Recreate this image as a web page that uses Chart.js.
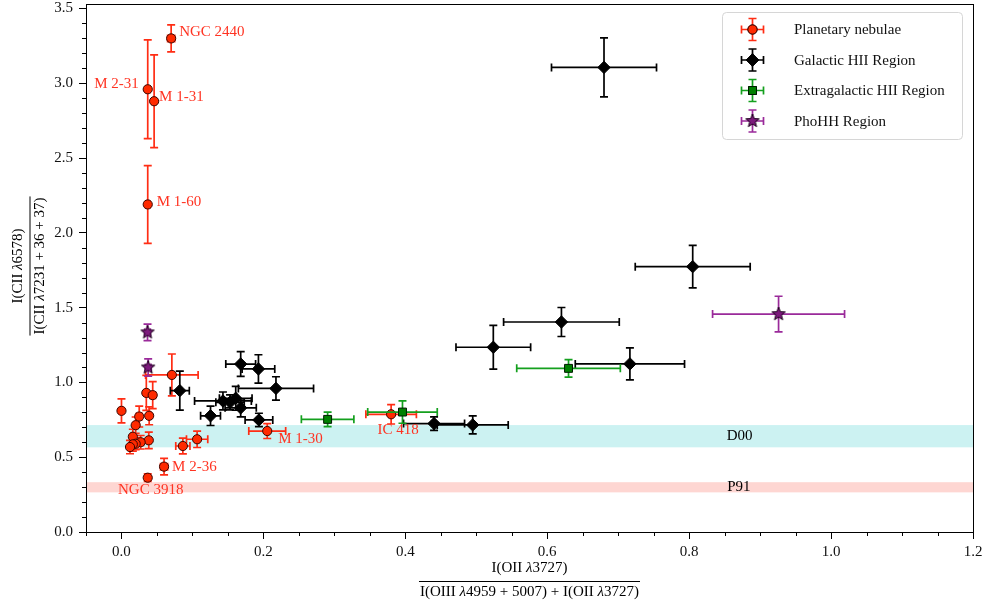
<!DOCTYPE html>
<html><head><meta charset="utf-8">
<script src="https://cdn.jsdelivr.net/npm/chart.js@4/dist/chart.umd.min.js"></script>
<style>html,body{margin:0;padding:0;background:#fff;}canvas{display:block;}</style>
</head><body>
<canvas id="c" width="985" height="603"></canvas>
<script>
// ---------------- DATA ----------------
// Planetary nebulae
const pnNames = ['NGC 2440','M 2-31','M 1-31','M 1-60','','','','','','','','','','','','','','','','M 2-36','NGC 3918','M 1-30','IC 418'];
const pnX    = [0.070,0.037,0.046,0.037,0.071,0.035,0.044,0.000,0.039,0.025,0.020,0.016,0.0385,0.027,0.020,0.016,0.012,0.0865,0.1066,0.060,0.037,0.2054,0.380];
const pnY    = [3.30,2.96,2.88,2.19,1.05,0.93,0.915,0.81,0.777,0.772,0.714,0.637,0.613,0.600,0.590,0.586,0.568,0.575,0.620,0.437,0.363,0.675,0.787];
const pnXerr = [0.005,0.003,0.003,0.003,0.037,0.003,0.004,0.003,0.003,0.004,0.003,0.003,0.003,0.004,0.003,0.003,0.003,0.010,0.015,0.005,0.003,0.026,0.0356];
const pnYerr = [0.09,0.33,0.31,0.26,0.14,0.117,0.09,0.08,0.06,0.07,0.055,0.05,0.055,0.045,0.04,0.045,0.045,0.053,0.055,0.055,0.025,0.05,0.065];
// Galactic HII regions
const ghX    = [0.680,0.805,0.620,0.524,0.7165,0.495,0.4405,0.168,0.193,0.2177,0.0822,0.143,0.161,0.153,0.168,0.1255,0.1937];
const ghY    = [3.106,1.774,1.404,1.235,1.124,0.716,0.725,1.123,1.090,0.960,0.945,0.876,0.894,0.867,0.830,0.777,0.749];
const ghXerr = [0.074,0.081,0.0815,0.0526,0.077,0.050,0.043,0.021,0.023,0.053,0.0134,0.040,0.023,0.020,0.022,0.014,0.0195];
const ghYerr = [0.197,0.142,0.097,0.146,0.107,0.06,0.045,0.083,0.095,0.078,0.13,0.06,0.08,0.05,0.06,0.065,0.045];
// Extragalactic HII regions
const exX    = [0.2905,0.396,0.630];
const exY    = [0.753,0.802,1.094];
const exXerr = [0.037,0.049,0.073];
const exYerr = [0.048,0.075,0.059];
// PhoHH regions
const phX    = [0.0367,0.0376,0.926];
const phY    = [1.335,1.100,1.457];
const phXerr = [0.004,0.004,0.093];
const phYerr = [0.055,0.058,0.119];
// Reference bands
const bandNames = ['D00','P91'];
const bandLow   = [0.566,0.265];
const bandHigh  = [0.715,0.333];
const bandLabelX = [0.871,0.870];
// Axis ticks
const xTicks = [0.0,0.2,0.4,0.6,0.8,1.0,1.2];
const yTicks = [0.0,0.5,1.0,1.5,2.0,2.5,3.0,3.5];
const seriesNames = ['Planetary nebulae','Galactic HII Region','Extragalactic HII Region','PhoHH Region'];
// axis titles (text, italic?)
const xTitleNum = [['I(OII ',0],['λ',1],['3727)',0]];
const xTitleDen = [['I(OIII ',0],['λ',1],['4959 + 5007) + I(OII ',0],['λ',1],['3727)',0]];
const yTitleNum = [['I(CII ',0],['λ',1],['6578)',0]];
const yTitleDen = [['I(CII ',0],['λ',1],['7231 + 36 + 37)',0]];

// ---------------- STYLE ----------------
const SERIF = "'Liberation Serif','Times New Roman',Times,serif";
const FS = 15;
const labelOffsets = { // px offsets from point, alignment
  'NGC 2440':[8,-6,'left'], 'M 2-31':[-9,-5,'right'], 'M 1-31':[5,-4,'left'], 'M 1-60':[9,-2,'left'],
  'M 2-36':[8,0,'left'], 'NGC 3918':[3,12,'center'], 'M 1-30':[11,8,'left'], 'IC 418':[7,16,'center']
};
const bandColors = ['rgba(0,191,191,0.2)','rgba(250,70,50,0.22)'];

function pts(X,Y,XE,YE){ return X.map((x,i)=>({x:x,y:Y[i],xerr:XE[i],yerr:YE[i]})); }

function starPath(g,cx,cy,R,r){
  g.beginPath();
  for(let k=0;k<10;k++){
    const a=-Math.PI/2+k*Math.PI/5, rr=(k%2===0)?R:r;
    const px=cx+rr*Math.cos(a), py=cy+rr*Math.sin(a);
    if(k===0) g.moveTo(px,py); else g.lineTo(px,py);
  }
  g.closePath();
}
function starCanvas(R,fill,edge){
  const s=Math.ceil(2*R+4); const c=document.createElement('canvas'); c.width=s; c.height=s;
  const g=c.getContext('2d'); starPath(g,s/2,s/2,R,R*0.42);
  g.fillStyle=fill; g.fill(); g.strokeStyle=edge; g.lineWidth=1; g.stroke(); return c;
}
const starImg = starCanvas(7,'#7d1a7d','#1a001a');

const series = [
  {label:seriesNames[0], data:pts(pnX,pnY,pnXerr,pnYerr), pointStyle:'circle', pointRadius:4.6, backgroundColor:'#ff2a00', borderColor:'#3a0500', errColor:'#ff2d14', order:4},
  {label:seriesNames[1], data:pts(ghX,ghY,ghXerr,ghYerr), pointStyle:'rectRot', pointRadius:6.2, backgroundColor:'#000', borderColor:'#000', errColor:'#000', order:3},
  {label:seriesNames[2], data:pts(exX,exY,exXerr,exYerr), pointStyle:'rect', pointRadius:5.6, backgroundColor:'#008000', borderColor:'#001a00', errColor:'#14a01e', order:2},
  {label:seriesNames[3], data:pts(phX,phY,phXerr,phYerr), pointStyle:starImg, pointRadius:7, backgroundColor:'#7d1a7d', borderColor:'#000', errColor:'#9a2a9a', order:1}
];
series.forEach(s=>{s.borderWidth=1; s.showLine=false; s.pointHoverRadius=s.pointRadius;});

const CAP=4;
function drawErr(ctx,x0,x1,y0,y1,px,py){
  ctx.beginPath();
  ctx.moveTo(x0,py); ctx.lineTo(x1,py);
  ctx.moveTo(px,y0); ctx.lineTo(px,y1);
  ctx.moveTo(x0,py-CAP); ctx.lineTo(x0,py+CAP);
  ctx.moveTo(x1,py-CAP); ctx.lineTo(x1,py+CAP);
  ctx.moveTo(px-CAP,y0); ctx.lineTo(px+CAP,y0);
  ctx.moveTo(px-CAP,y1); ctx.lineTo(px+CAP,y1);
  ctx.stroke();
}

const bgPlugin = {id:'bg', beforeDraw(chart){const c=chart.ctx; c.save(); c.fillStyle='#fff'; c.fillRect(0,0,chart.width,chart.height); c.restore();}};

const bandPlugin = {id:'bands', beforeDatasetsDraw(chart){
  const {ctx,chartArea:a,scales:{x,y}}=chart; ctx.save();
  bandNames.forEach((n,i)=>{
    const t=y.getPixelForValue(bandHigh[i]), b=y.getPixelForValue(bandLow[i]);
    ctx.fillStyle=bandColors[i]; ctx.fillRect(a.left,t,a.right-a.left,b-t);
  });
  ctx.restore();
}};

const errPlugin = {id:'errbars', beforeDatasetDraw(chart,args){
  const ds=chart.data.datasets[args.index]; const {ctx,scales:{x,y}}=chart;
  ctx.save(); ctx.strokeStyle=ds.errColor; ctx.lineWidth=1.7; ctx.lineCap='butt';
  ds.data.forEach(p=>{
    drawErr(ctx, x.getPixelForValue(p.x-p.xerr), x.getPixelForValue(p.x+p.xerr),
      y.getPixelForValue(p.y-p.yerr), y.getPixelForValue(p.y+p.yerr),
      x.getPixelForValue(p.x), y.getPixelForValue(p.y));
  });
  ctx.restore();
}};

function segsWidth(ctx,segs){let w=0; segs.forEach(s=>{ctx.font=(s[1]?'italic ':'')+FS+'px '+SERIF; w+=ctx.measureText(s[0]).width;}); return w;}
function drawSegs(ctx,segs,cx,cy){
  const w=segsWidth(ctx,segs); let x=cx-w/2; ctx.textBaseline='middle'; ctx.textAlign='left';
  segs.forEach(s=>{ctx.font=(s[1]?'italic ':'')+FS+'px '+SERIF; ctx.fillText(s[0],x,cy); x+=ctx.measureText(s[0]).width;});
  return w;
}
function drawFrac(ctx,num,den,cx,cy,upOff,downOff){
  const wn=drawSegs(ctx,num,cx,cy-upOff);
  const wd=drawSegs(ctx,den,cx,cy+downOff);
  const w=Math.max(wn,wd)+2;
  ctx.beginPath(); ctx.moveTo(cx-w/2,cy+0.5); ctx.lineTo(cx+w/2,cy+0.5); ctx.lineWidth=1; ctx.stroke();
}

const decoPlugin = {id:'deco', afterDatasetsDraw(chart){
  const {ctx,chartArea:a,scales:{x,y}}=chart;
  ctx.save();
  // band labels
  ctx.fillStyle='#000'; ctx.font=FS+'px '+SERIF; ctx.textAlign='center'; ctx.textBaseline='middle';
  bandNames.forEach((n,i)=>{ctx.fillText(n, x.getPixelForValue(bandLabelX[i]), y.getPixelForValue((bandLow[i]+bandHigh[i])/2));});
  // PN labels
  ctx.fillStyle='#ff3322';
  pnNames.forEach((n,i)=>{ if(!n) return; const o=labelOffsets[n]||[6,0,'left'];
    ctx.textAlign=o[2]; ctx.fillText(n, x.getPixelForValue(pnX[i])+o[0], y.getPixelForValue(pnY[i])+o[1]); });
  // frame
  ctx.strokeStyle='#000'; ctx.lineWidth=1;
  ctx.strokeRect(Math.round(a.left)+0.5, Math.round(a.top)+0.5, Math.round(a.right-a.left), Math.round(a.bottom-a.top));
  // minor ticks
  ctx.beginPath();
  for(let v=-0.05; v<=1.2001; v+=0.05){ const r=Math.round(v*100)/100; if(Math.abs(r*5-Math.round(r*5))<1e-6) continue;
    const px=Math.round(x.getPixelForValue(r))+0.5; ctx.moveTo(px,a.bottom); ctx.lineTo(px,a.bottom+4); }
  for(let v=0; v<=3.5001; v+=0.1){ const r=Math.round(v*10)/10; if(Math.abs(r*2-Math.round(r*2))<1e-6) continue;
    const py=Math.round(y.getPixelForValue(r))+0.5; ctx.moveTo(a.left,py); ctx.lineTo(a.left-4,py); }
  ctx.stroke();
  // axis titles
  ctx.fillStyle='#000'; ctx.strokeStyle='#000';
  const cx=(a.left+a.right)/2;
  drawFrac(ctx,xTitleNum,xTitleDen,cx,581,13,11);
  ctx.save(); ctx.translate(29.5,266); ctx.rotate(-Math.PI/2);
  drawFrac(ctx,yTitleNum,yTitleDen,0,0,11,11);
  ctx.restore();
  // legend
  const L={x:722.5,y:12.5,w:240,h:127};
  ctx.beginPath(); ctx.roundRect(L.x,L.y,L.w,L.h,4);
  ctx.fillStyle='rgba(255,255,255,0.85)'; ctx.fill(); ctx.strokeStyle='#d6d6d6'; ctx.lineWidth=1; ctx.stroke();
  const rowsY=[29.5,60,90.5,121]; const mx=752.5;
  chart.data.datasets.forEach((ds,i)=>{
    const ry=rowsY[i];
    ctx.strokeStyle=ds.errColor; ctx.lineWidth=1.7;
    drawErr(ctx,mx-11,mx+11,ry-11,ry+11,mx,ry);
    ctx.fillStyle=ds.backgroundColor; ctx.strokeStyle=ds.borderColor; ctx.lineWidth=1;
    if(ds.pointStyle instanceof HTMLCanvasElement){ ctx.drawImage(ds.pointStyle, mx-ds.pointStyle.width/2, ry-ds.pointStyle.height/2); }
    else { Chart.helpers.drawPoint(ctx,{pointStyle:ds.pointStyle,radius:ds.pointRadius,rotation:0,borderWidth:1},mx,ry); ctx.fill(); ctx.stroke(); }
    ctx.fillStyle='#111'; ctx.font=FS+'px '+SERIF; ctx.textAlign='left'; ctx.textBaseline='middle';
    ctx.fillText(ds.label,794,ry+1);
  });
  ctx.restore();
}};

const axisCommon = {
  type:'linear',
  grid:{drawOnChartArea:false, drawTicks:true, tickLength:7, color:'#000', lineWidth:1},
  border:{display:true, color:'#000', width:1},
  ticks:{font:{family:SERIF,size:FS}, color:'#111', maxRotation:0, autoSkip:false, callback:v=>Number(v).toFixed(1)}
};

new Chart(document.getElementById('c'),{
  type:'scatter',
  data:{datasets:series},
  options:{
    responsive:false, devicePixelRatio:1, animation:false,
    layout:{autoPadding:false, padding:{left:0,right:12,top:4,bottom:0}},
    plugins:{legend:{display:false}, tooltip:{enabled:false}},
    scales:{
      x:Object.assign({},axisCommon,{min:-0.05,max:1.2,
        ticks:Object.assign({},axisCommon.ticks,{padding:4}),
        afterBuildTicks:s=>{s.ticks=xTicks.map(v=>({value:v}));},
        afterFit:s=>{s.height=71; s.paddingLeft=0; s.paddingRight=0;}}),
      y:Object.assign({},axisCommon,{min:0,max:3.53,
        ticks:Object.assign({},axisCommon.ticks,{padding:6}),
        afterBuildTicks:s=>{s.ticks=yTicks.map(v=>({value:v}));},
        afterFit:s=>{s.width=86; s.paddingTop=0; s.paddingBottom=0;}})
    }
  },
  plugins:[bgPlugin,bandPlugin,errPlugin,decoPlugin]
});
</script>
</body></html>
